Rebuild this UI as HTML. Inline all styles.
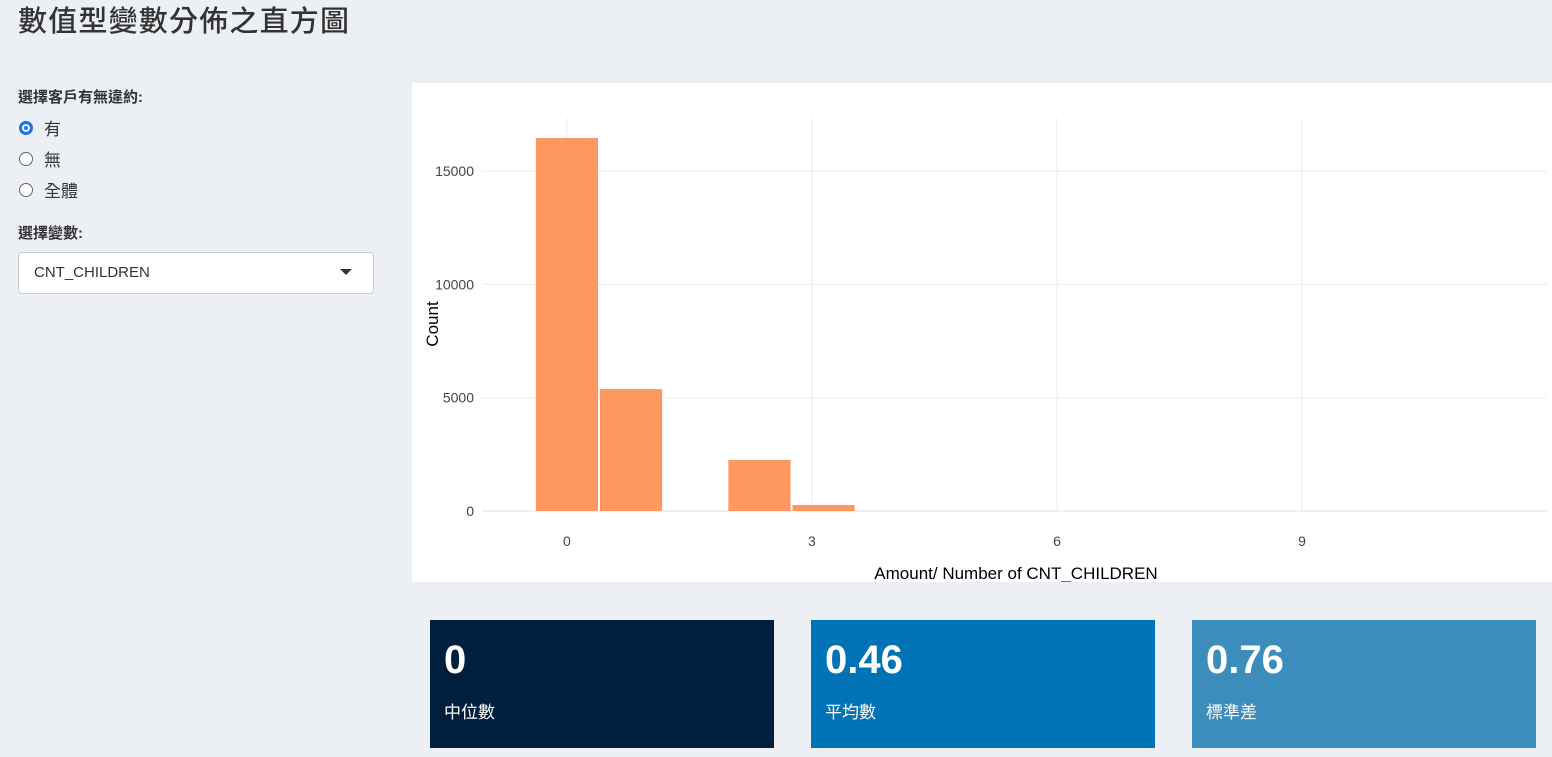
<!DOCTYPE html>
<html><head><meta charset="utf-8">
<style>
body{margin:0;width:1552px;height:757px;background:#ecf0f5;font-family:"Liberation Sans","Noto Sans CJK TC",sans-serif;overflow:hidden;position:relative;color:#333}
.abs{position:absolute}
h1{position:absolute;left:18px;top:-2px;margin:0;font-size:29px;font-weight:500;color:#333;letter-spacing:1.2px}
.lbl{font-size:15px;font-weight:bold}
.radio{font-size:17px;display:flex;align-items:center}
.radio span.c{width:14px;height:14px;border:1px solid #666;border-radius:50%;margin-right:11px;box-sizing:border-box;background:#fff}
.radio span.c.on{border:3px solid #1a73e8;box-shadow:inset 0 0 0 2px #fff;background:#1a73e8}
.box{position:absolute;top:620px;width:344px;height:128px;color:#fff}
.box .v{position:absolute;left:14px;top:18px;font-size:40px;font-weight:bold}
.box .t{position:absolute;left:14px;top:78px;font-size:17px}
</style></head><body>
<h1>數值型變數分佈之直方圖</h1>
<div class="abs lbl" style="left:18px;top:86px">選擇客戶有無違約:</div>
<div class="abs radio" style="left:19px;top:115px"><span class="c on"></span>有</div>
<div class="abs radio" style="left:19px;top:146px"><span class="c"></span>無</div>
<div class="abs radio" style="left:19px;top:177px"><span class="c"></span>全體</div>
<div class="abs lbl" style="left:18px;top:222px">選擇變數:</div>
<div class="abs" style="left:18px;top:252px;width:354px;height:40px;background:#fff;border:1px solid #ccc;border-radius:4px;font-size:15px">
<span style="position:absolute;left:15px;top:11px">CNT_CHILDREN</span>
<span style="position:absolute;right:21px;top:16px;border-left:6px solid transparent;border-right:6px solid transparent;border-top:6px solid #333"></span></div>
<div class="abs" style="left:412px;top:83px;width:1140px;height:499px;background:#fff">
<svg id="chart" width="1140" height="499" style="font-family:'Liberation Sans',sans-serif"></svg></div>
<div class="box" style="left:430px;background:#001f3f"><div class="v">0</div><div class="t">中位數</div></div>
<div class="box" style="left:811px;background:#0073b7"><div class="v">0.46</div><div class="t">平均數</div></div>
<div class="box" style="left:1192px;background:#3c8dbc"><div class="v">0.76</div><div class="t">標準差</div></div>
<script>
const binStart=-0.393;
const binWidth=0.7857;
const counts=[16460,5380,0,2250,265,0,0,0,0,0,0,0,0,1];
const xTicks=[0,3,6,9];
const yTicks=[0,5000,10000,15000];
const svg=document.getElementById('chart');
const NS='http://www.w3.org/2000/svg';
const ox=412,oy=83;
const X0=-1.04,X1=12.0,Y1=17343;
const px0=482-ox,px1=1547-ox,py0=511-oy,py1=118-oy;
function sx(v){return px0+(v-X0)/(X1-X0)*(px1-px0);}
function sy(v){return py0-(v/Y1)*(py0-py1);}
function mk(t,a){const e=document.createElementNS(NS,t);for(const k in a)e.setAttribute(k,a[k]);svg.appendChild(e);return e;}
xTicks.forEach(t=>{
 const l=mk('line',{x1:sx(t),x2:sx(t),y1:py1,y2:py0,stroke:'#ebebeb'});
 
 
 const tx=mk('text',{x:sx(t),y:py0+35,'text-anchor':'middle','font-size':14,fill:'#444'});tx.textContent=t;
 
 
});
yTicks.forEach(t=>{
 const l=mk('line',{x1:px0,x2:px1,y1:sy(t),y2:sy(t),stroke:t===0?'#e0e0e0':'#ebebeb'});
 
 
 const tx=mk('text',{x:px0-8,y:sy(t)+5,'text-anchor':'end','font-size':14,fill:'#444'});tx.textContent=t;
 
 
});
counts.forEach((c,i)=>{
 if(c<=0)return;
 const a=binStart+i*binWidth,b=a+binWidth;
 const r=mk('rect',{x:sx(a)+1,y:sy(c),width:sx(b)-sx(a)-2,height:sy(0)-sy(c),fill:'#ff8c50','fill-opacity':0.9});
 
 
});
const xt=mk('text',{x:604,y:496,'text-anchor':'middle','font-size':17,fill:'#000'});xt.textContent='Amount/ Number of CNT_CHILDREN';


const yt=mk('text',{x:0,y:0,'text-anchor':'middle','font-size':17,fill:'#000',transform:'translate(26,241) rotate(-90)'});yt.textContent='Count';


</script>
</body></html>
